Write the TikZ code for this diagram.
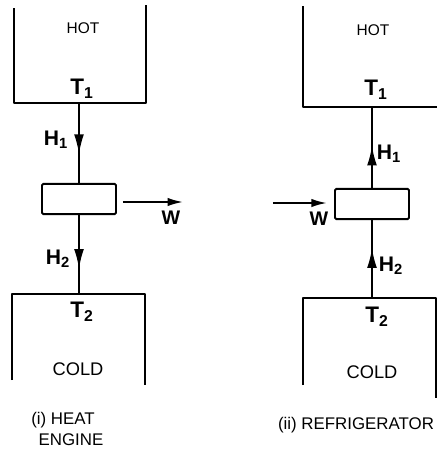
\documentclass[tikz,border=0pt]{standalone}
\usepackage{fontspec}
\setmainfont{Liberation Sans}
\usetikzlibrary{arrows.meta,positioning,decorations.markings}

\begin{document}
\begin{tikzpicture}[
    x=0.025cm, y=-0.025cm,
    every node/.style={inner sep=0pt},
    wall/.style={line width=1.6pt, line join=round},
    unit/.style={
      rectangle, draw, line width=1.4pt, rounded corners=1pt,
      minimum width=1.85cm, minimum height=0.76cm
    },
    flow/.style={
      line width=1.3pt, postaction={decorate},
      decoration={markings, mark=at position #1 with {\arrow{Latex[length=14pt,width=7pt]}}}
    },
    flow/.default=0.5,
    arr/.style={-{Latex[length=11pt,width=6pt]}, line width=1.3pt},
    tank/.style={font=\fontsize{11}{12}\selectfont},
    cold/.style={font=\fontsize{13}{14}\selectfont},
    temp/.style={font=\fontsize{16}{18}\selectfont\bfseries},
    heat/.style={font=\fontsize{15}{16}\selectfont\bfseries},
    work/.style={font=\fontsize{14}{16}\selectfont\bfseries},
    title/.style={font=\fontsize{12}{14}\selectfont, align=center}
  ]
    \useasboundingbox (0,0) rectangle (437,450);

    % (i) heat engine
    \draw[wall] (14,8) -- (14,103) -- (146,103) -- (146,5);
    \node[tank] (hotA) at (83,28) {HOT};
    \node[temp] (tA1) at (82,89) {T\textsubscript{1}};
    \coordinate (srcA) at (79,103);
    \node[unit] (engA) at (79,199) {};
    \draw[flow=0.64] (srcA) -- (engA.north);
    \node[heat] (hA1) at (56,140) {H\textsubscript{1}};
    \coordinate (wA) at (183,202);
    \draw[arr] ([xshift=0.15cm]engA.east |- wA) -- (wA);
    \node[work] (wlA) at (171,218) {W};
    \coordinate (snkA) at (79,294);
    \draw[flow=0.68] (engA.south) -- (snkA);
    \node[heat] (hA2) at (58,259) {H\textsubscript{2}};
    \draw[wall] (12,380) -- (12,294) -- (145,294) -- (145,385);
    \node[temp] (tA2) at (82,312) {T\textsubscript{2}};
    \node[cold] (coldA) at (78,369) {COLD};
    \node[title] (capA) at (63,429) {(i) HEAT\\[1pt]\hspace*{0.4cm}ENGINE};

    % (ii) refrigerator
    \draw[wall] (303,6) -- (303,107) -- (437,107);
    \node[tank] (hotB) at (373,30) {HOT};
    \node[temp] (tB1) at (376,90) {T\textsubscript{1}};
    \coordinate (srcB) at (372,107);
    \node[unit] (engB) at (372,204) {};
    \draw[flow=0.52] (engB.north) -- (srcB);
    \node[heat] (hB1) at (389,154) {H\textsubscript{1}};
    \coordinate (wB) at (273,203);
    \draw[arr] (wB) -- ([xshift=-0.18cm]engB.west |- wB);
    \node[work] (wlB) at (319,219) {W};
    \coordinate (snkB) at (372,298);
    \draw[flow=0.64] (snkB) -- (engB.south);
    \node[heat] (hB2) at (391,266) {H\textsubscript{2}};
    \draw[wall] (303,385) -- (303,298) -- (436,298) -- (436,398);
    \node[temp] (tB2) at (377,317) {T\textsubscript{2}};
    \node[cold] (coldB) at (372,372) {COLD};
    \node[title] (capB) at (356,425) {(ii) REFRIGERATOR};
  \end{tikzpicture}
\end{document}
